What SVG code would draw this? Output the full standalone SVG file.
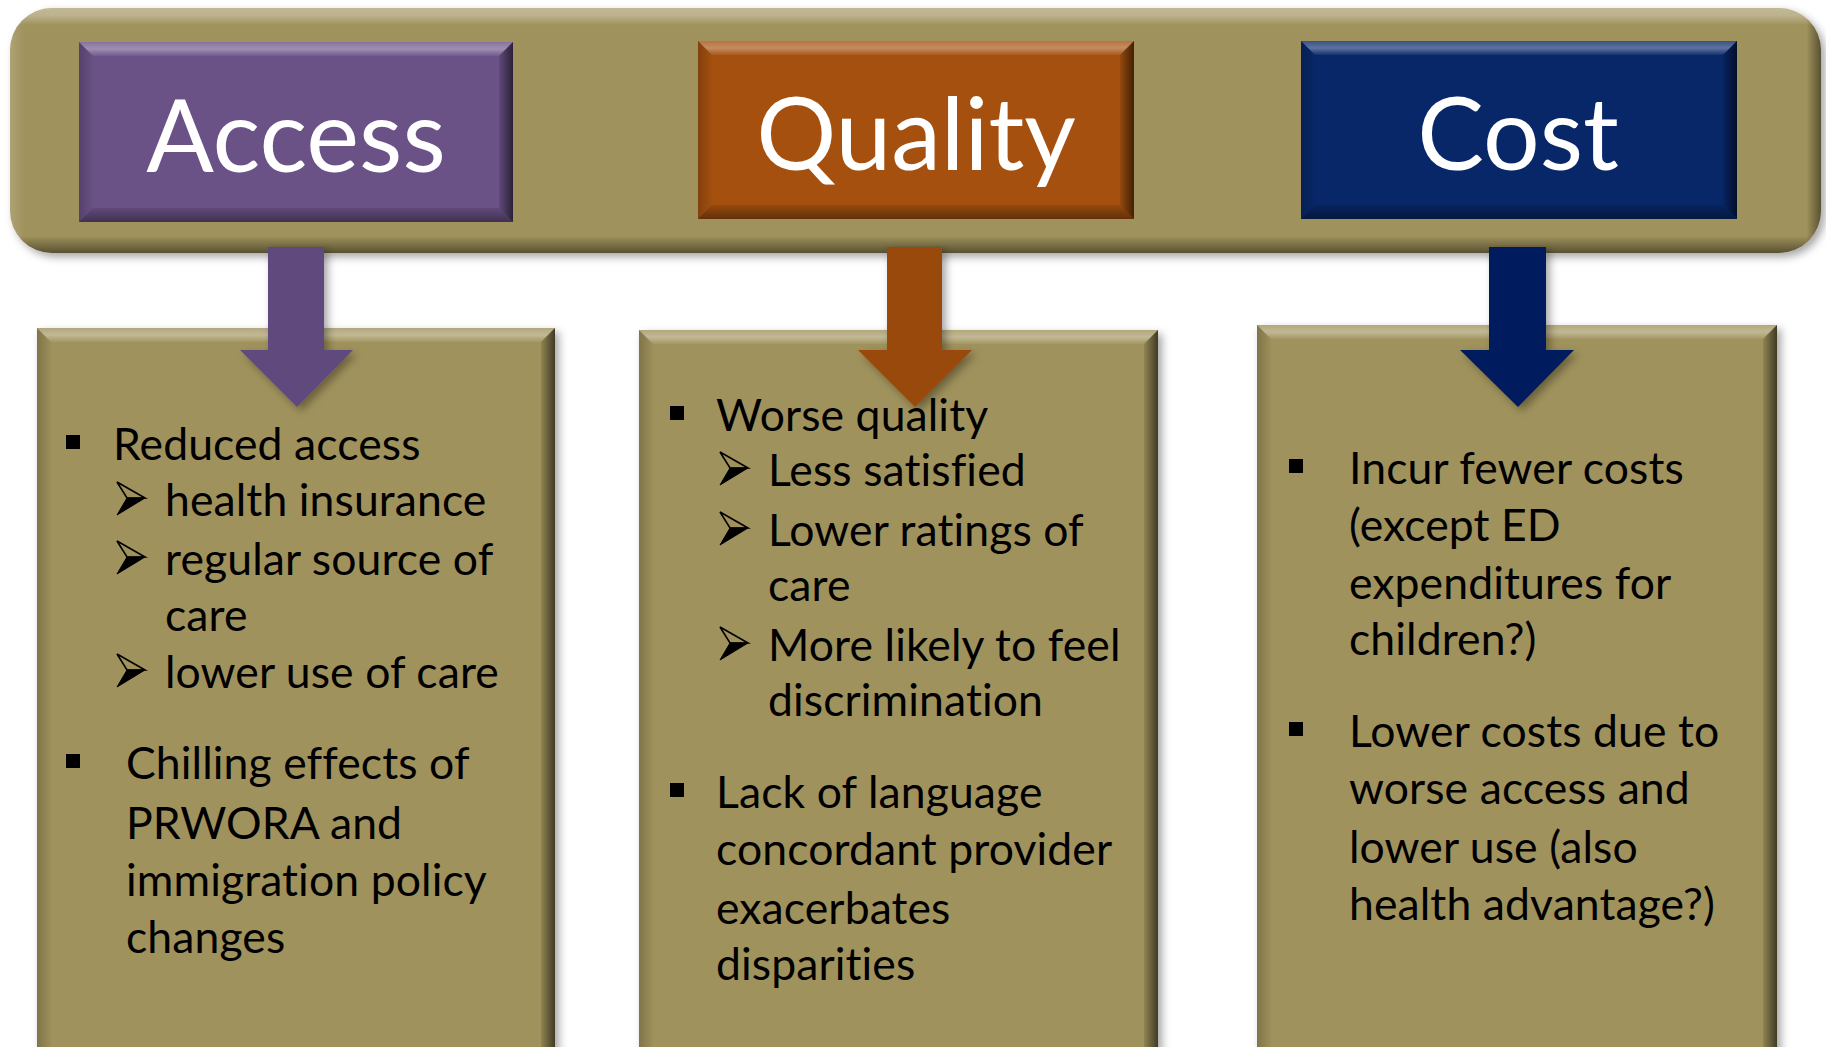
<svg xmlns="http://www.w3.org/2000/svg" width="1826" height="1047" viewBox="0 0 1826 1047">
<defs>
<style>
.hd{font-family:Lato,'Open Sans',sans-serif;font-size:100px;fill:#fff;text-anchor:middle;font-variant-ligatures:none;font-feature-settings:"liga" 0,"dlig" 0}
.bd{font-family:Lato,'Open Sans',sans-serif;font-size:44.5px;fill:#000;letter-spacing:0.1px;font-variant-ligatures:none;font-feature-settings:"liga" 0,"dlig" 0,"clig" 0}
.olive{fill:#A0925C}
.bt{fill:url(#gTop)}
.bb{fill:url(#gBot)}
.br{fill:url(#gRight)}
.bl{fill:url(#gLeft)}
</style>
<linearGradient id="gTop" x1="0" y1="0" x2="0" y2="1"><stop offset="0" stop-color="#fff" stop-opacity="0.2"/><stop offset="0.5" stop-color="#fff" stop-opacity="0.35"/><stop offset="1" stop-color="#fff" stop-opacity="0.05"/></linearGradient>
<linearGradient id="gBot" x1="0" y1="0" x2="0" y2="1"><stop offset="0" stop-color="#000" stop-opacity="0.1"/><stop offset="1" stop-color="#000" stop-opacity="0.4"/></linearGradient>
<linearGradient id="gRight" x1="0" y1="0" x2="1" y2="0"><stop offset="0" stop-color="#000" stop-opacity="0.1"/><stop offset="1" stop-color="#000" stop-opacity="0.6"/></linearGradient>
<linearGradient id="gLeft" x1="0" y1="0" x2="1" y2="0"><stop offset="0" stop-color="#000" stop-opacity="0.2"/><stop offset="1" stop-color="#000" stop-opacity="0.02"/></linearGradient>
<linearGradient id="barV" x1="0" y1="0" x2="0" y2="1"><stop offset="0" stop-color="#fff" stop-opacity="0.35"/><stop offset="0.03" stop-color="#fff" stop-opacity="0.3"/><stop offset="0.07" stop-color="#fff" stop-opacity="0"/><stop offset="0.93" stop-color="#000" stop-opacity="0"/><stop offset="1" stop-color="#000" stop-opacity="0.45"/></linearGradient>
<linearGradient id="barH" x1="0" y1="0" x2="1" y2="0"><stop offset="0" stop-color="#fff" stop-opacity="0.15"/><stop offset="0.008" stop-color="#fff" stop-opacity="0"/><stop offset="0.992" stop-color="#000" stop-opacity="0"/><stop offset="1" stop-color="#000" stop-opacity="0.45"/></linearGradient>
<filter id="sh" x="-10%" y="-10%" width="130%" height="130%"><feDropShadow dx="4" dy="4" stdDeviation="4" flood-color="#000" flood-opacity="0.35"/></filter>
<g id="arrowBullet">
<polygon points="1,-34 29,-18 11,-18" fill="none" stroke="#000" stroke-width="1.6" stroke-linejoin="miter"/>
<polygon points="11,-18 29,-18 1,-1" fill="#000" stroke="#000" stroke-width="1"/>
</g>
<rect id="sqBullet" x="0" y="-25" width="14" height="14" fill="#000"/>
</defs>
<rect width="1826" height="1047" fill="#fff"/>

<g id="top-bar">
<rect x="10" y="8" width="1811" height="245" rx="42" ry="42" class="olive" filter="url(#sh)"/>
<rect x="10" y="8" width="1811" height="245" rx="42" ry="42" fill="url(#barV)"/>
<rect x="10" y="8" width="1811" height="245" rx="42" ry="42" fill="url(#barH)"/>
</g>

<g id="access">
<rect x="79" y="42" width="434" height="180" fill="#6A5287"/>
<polygon class="bt" points="79,42 513,42 499,56 93,56"/>
<polygon class="br" points="513,42 513,222 499,208 499,56"/>
<polygon class="bb" points="79,222 513,222 499,208 93,208"/>
<polygon class="bl" points="79,42 93,56 93,208 79,222"/>
<text class="hd" x="296" y="172">Access</text>
</g>

<g id="quality">
<rect x="698" y="41" width="436" height="178" fill="#A5500F"/>
<polygon class="bt" points="698,41 1134,41 1120,55 712,55"/>
<polygon class="br" points="1134,41 1134,219 1120,205 1120,55"/>
<polygon class="bb" points="698,219 1134,219 1120,205 712,205"/>
<polygon class="bl" points="698,41 712,55 712,205 698,219"/>
<text class="hd" x="916" y="170" font-size="102">Quality</text>
</g>

<g id="cost">
<rect x="1301" y="41" width="436" height="178" fill="#082769"/>
<polygon class="bt" points="1301,41 1737,41 1723,55 1315,55"/>
<polygon class="br" points="1737,41 1737,219 1723,205 1723,55"/>
<polygon class="bb" points="1301,219 1737,219 1723,205 1315,205"/>
<polygon class="bl" points="1301,41 1315,55 1315,205 1301,219"/>
<text class="hd" x="1518" y="170">Cost</text>
</g>

<g id="access-details">
<rect x="37" y="328" width="518" height="740" class="olive" filter="url(#sh)"/>
<polygon class="bt" points="37,328 555,328 541,342 51,342"/>
<polygon class="br" points="555,328 555,1068 541,1054 541,342"/>
<polygon class="bl" points="37,328 51,342 51,1054 37,1068"/>
<use href="#sqBullet" x="66" y="460"/>
<text class="bd" x="113" y="460">Reduced access</text>
<use href="#arrowBullet" x="116" y="516"/>
<text class="bd" x="165" y="516">health insurance</text>
<use href="#arrowBullet" x="116" y="575"/>
<text class="bd" x="165" y="575">regular source of</text>
<text class="bd" x="165" y="631">care</text>
<use href="#arrowBullet" x="116" y="688"/>
<text class="bd" x="165" y="688">lower use of care</text>
<use href="#sqBullet" x="66" y="779"/>
<text class="bd" x="126" y="779">Chilling effects of</text>
<text class="bd" x="126" y="839">PRWORA and</text>
<text class="bd" x="126" y="896">immigration policy</text>
<text class="bd" x="126" y="953">changes</text>
</g>

<g id="quality-details">
<rect x="639" y="330" width="519" height="740" class="olive" filter="url(#sh)"/>
<polygon class="bt" points="639,330 1158,330 1144,344 653,344"/>
<polygon class="br" points="1158,330 1158,1070 1144,1056 1144,344"/>
<polygon class="bl" points="639,330 653,344 653,1056 639,1070"/>
<use href="#sqBullet" x="670" y="431"/>
<text class="bd" x="716" y="431">Worse quality</text>
<use href="#arrowBullet" x="719" y="486"/>
<text class="bd" x="768" y="486">Less satisfied</text>
<use href="#arrowBullet" x="719" y="546"/>
<text class="bd" x="768" y="546">Lower ratings of</text>
<text class="bd" x="768" y="601">care</text>
<use href="#arrowBullet" x="719" y="661"/>
<text class="bd" x="768" y="661">More likely to feel</text>
<text class="bd" x="768" y="716">discrimination</text>
<use href="#sqBullet" x="670" y="808"/>
<text class="bd" x="716" y="808">Lack of language</text>
<text class="bd" x="716" y="865">concordant provider</text>
<text class="bd" x="716" y="924">exacerbates</text>
<text class="bd" x="716" y="980">disparities</text>
</g>

<g id="cost-details">
<rect x="1257" y="325" width="520" height="740" class="olive" filter="url(#sh)"/>
<polygon class="bt" points="1257,325 1777,325 1763,339 1271,339"/>
<polygon class="br" points="1777,325 1777,1065 1763,1051 1763,339"/>
<polygon class="bl" points="1257,325 1271,339 1271,1051 1257,1065"/>
<use href="#sqBullet" x="1289" y="484"/>
<text class="bd" x="1349" y="484">Incur fewer costs</text>
<text class="bd" x="1349" y="541">(except ED</text>
<text class="bd" x="1349" y="599">expenditures for</text>
<text class="bd" x="1349" y="655">children?)</text>
<use href="#sqBullet" x="1289" y="747"/>
<text class="bd" x="1349" y="747">Lower costs due to</text>
<text class="bd" x="1349" y="804">worse access and</text>
<text class="bd" x="1349" y="863">lower use (also</text>
<text class="bd" x="1349" y="920">health advantage?)</text>
</g>

<g id="connectors" filter="url(#sh)">
<polygon fill="#5F4A7D" points="268,247 324,247 324,350 353,350 297,407 240,350 268,350"/>
<polygon fill="#9A4909" points="887,247 942,247 942,350 972,350 915,407 858,350 887,350"/>
<polygon fill="#021E5E" points="1489,247 1546,247 1546,350 1574,350 1518,407 1460,350 1489,350"/>
</g>
</svg>
